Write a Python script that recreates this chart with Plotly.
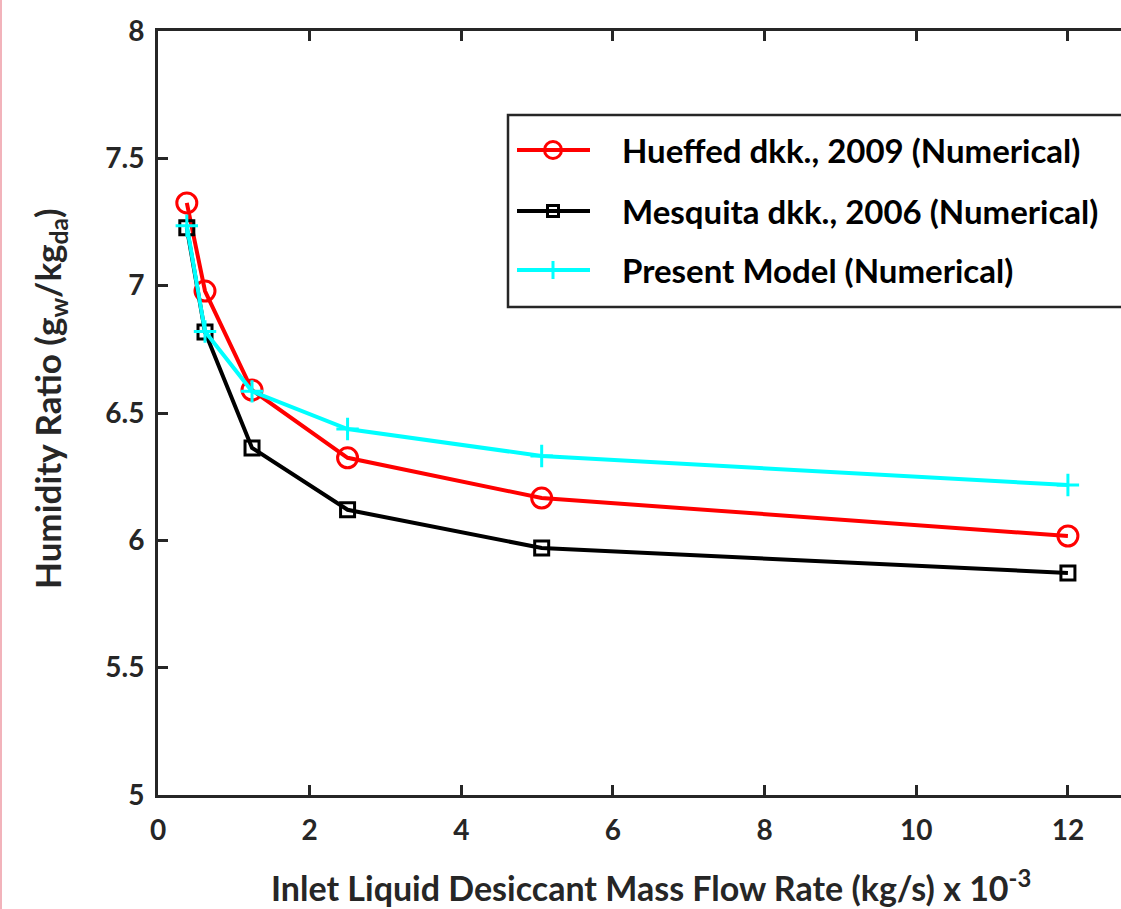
import plotly.graph_objects as go

x_flow = [0.38, 0.62, 1.24, 2.5, 5.06, 12.0]
hueffed = [7.325, 6.979, 6.59, 6.324, 6.166, 6.017]
mesquita = [7.227, 6.818, 6.363, 6.12, 5.97, 5.872]
present = [7.235, 6.82, 6.585, 6.437, 6.331, 6.217]

names = ["Hueffed dkk., 2009 (Numerical)",
         "Mesquita dkk., 2006 (Numerical)",
         "Present Model (Numerical)"]
colors = ["#ff0000", "#000000", "#00ffff"]
symbols = ["circle-open", "square-open", "cross-thin-open"]
sizes = [20, 14, 16]
series = [hueffed, mesquita, present]

FONT = "Lato"
AX = "#262626"
W, H = 1121, 909
L, T, B = 158, 31, 114
PW, PH = W - L, H - T - B


def px_x(px):
    return (px - L) / PW


def px_y(py):
    return (H - B - py) / PH


fig = go.Figure()
for nm, ys, c, s, sz in zip(names, series, colors, symbols, sizes):
    fig.add_trace(go.Scatter(x=x_flow, y=ys, name=nm, mode="lines+markers",
                             showlegend=False,
                             line=dict(color=c, width=4),
                             marker=dict(symbol=s, size=sz, color=c,
                                         line=dict(width=3, color=c))))

# hand-drawn legend (box, key lines, key markers, labels)
leg_rows = [150, 211, 270]
shapes = [dict(type="rect", xref="paper", yref="paper", layer="below",
               x0=px_x(508), x1=px_x(1135), y0=px_y(307), y1=px_y(115),
               line=dict(color=AX, width=2.5), fillcolor="white")]
annotations = []
for nm, c, row in zip(names, colors, leg_rows):
    shapes.append(dict(type="line", xref="paper", yref="paper", layer="below",
                       x0=px_x(517), x1=px_x(590), y0=px_y(row), y1=px_y(row),
                       line=dict(color=c, width=4)))
    annotations.append(dict(text=nm, xref="paper", yref="paper",
                            x=px_x(620), y=px_y(row), xanchor="left", yanchor="middle",
                            showarrow=False,
                            font=dict(family=FONT, size=33, color="#000000", weight="bold")))
for c, s, sz, row in zip(colors, symbols, sizes, leg_rows):
    fig.add_trace(go.Scatter(x=[px_x(553)], y=[px_y(row)], xaxis="x2", yaxis="y2",
                             mode="markers", showlegend=False, hoverinfo="skip",
                             marker=dict(symbol=s, size=sz - 3, color=c,
                                         line=dict(width=3, color=c))))

# axis titles
annotations.append(dict(text="Inlet Liquid Desiccant Mass Flow Rate (kg/s) x 10<sup>-3</sup>",
                        xref="paper", yref="paper", x=px_x(651), y=px_y(886),
                        xanchor="center", yanchor="middle", showarrow=False,
                        font=dict(family=FONT, size=34, color=AX, weight="bold")))
annotations.append(dict(text="Humidity Ratio (g<sub>w</sub>/kg<sub>da</sub>)",
                        xref="paper", yref="paper", x=px_x(50), y=px_y(399),
                        xanchor="center", yanchor="middle", textangle=-90, showarrow=False,
                        font=dict(family=FONT, size=35, color=AX, weight="bold")))

# thin pink border line at the far left of the picture
shapes.append(dict(type="line", xref="paper", yref="paper",
                   x0=px_x(1), x1=px_x(1), y0=px_y(909), y1=px_y(0),
                   line=dict(color="#f2b3bb", width=2)))

fig.update_layout(
    width=W, height=H,
    margin=dict(l=L, r=0, t=T, b=B),
    paper_bgcolor="white", plot_bgcolor="white",
    font=dict(family=FONT, size=28, color=AX, weight="bold"),
    showlegend=False,
    xaxis=dict(range=[0, 12.7], tickvals=[0, 2, 4, 6, 8, 10, 12],
               ticks="inside", ticklen=10, tickwidth=2.5, tickcolor=AX,
               ticklabelstandoff=8,
               showline=True, linecolor=AX, linewidth=3, mirror="ticks",
               showgrid=False, zeroline=False),
    yaxis=dict(range=[5, 8], tickvals=[5, 5.5, 6, 6.5, 7, 7.5, 8],
               ticktext=["5", "5.5", "6", "6.5", "7", "7.5", "8"],
               ticks="inside", ticklen=10, tickwidth=2.5, tickcolor=AX,
               ticklabelstandoff=5,
               showline=True, linecolor=AX, linewidth=3, mirror=False,
               showgrid=False, zeroline=False),
    xaxis2=dict(domain=[0, 1], range=[0, 1], overlaying="x", visible=False,
                fixedrange=True),
    yaxis2=dict(domain=[0, 1], range=[0, 1], overlaying="y", visible=False,
                fixedrange=True),
    shapes=shapes,
    annotations=annotations,
)

fig.write_html("out.html", config={"displayModeBar": False},
               post_script="document.body.style.margin='0';")
